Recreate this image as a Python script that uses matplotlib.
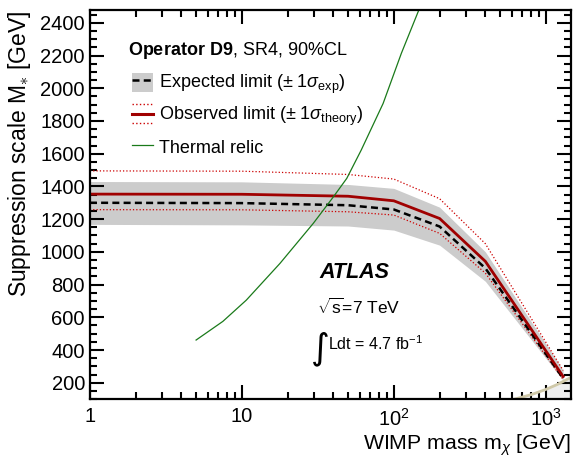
import matplotlib
matplotlib.use('Agg')
import matplotlib.pyplot as plt
from matplotlib.lines import Line2D
from matplotlib.patches import Patch
from matplotlib.legend import Legend
from matplotlib.legend_handler import HandlerBase, HandlerTuple
import matplotlib.ticker as ticker

plt.rcParams['font.family'] = ['Liberation Sans', 'DejaVu Sans']
plt.rcParams['mathtext.fontset'] = 'custom'
plt.rcParams['mathtext.rm'] = 'Liberation Sans'
plt.rcParams['mathtext.it'] = 'Liberation Sans:italic'
plt.rcParams['mathtext.bf'] = 'Liberation Sans:bold'

# limits vs WIMP mass (GeV)
mass = [1, 10, 50, 100, 200, 400, 1300]
observed = [1353, 1352, 1340, 1312, 1204, 942, 238]
expected = [1300, 1298, 1285, 1259, 1155, 900, 227]
exp_hi = [1430, 1428, 1412, 1388, 1273, 1000, 277]
exp_lo = [1168, 1165, 1158, 1133, 1041, 820, 215]
theo_hi = [1495, 1493, 1473, 1445, 1325, 1050, 275]
theo_lo = [1258, 1257, 1245, 1225, 1113, 870, 220]

# thermal relic curve
relic_mass = [5, 7.5, 10.7, 17.8, 29.5, 40, 49, 61, 85, 112, 146]
relic_ms = [461, 575, 705, 929, 1174, 1336, 1449, 1622, 1907, 2213, 2478]

# validity line (bottom right)
valid_mass = [600, 800, 1000, 1200, 1450]
valid_ms = [96, 127, 159, 191, 231]

xtick_vals = [1, 10, 100, 1000]
xtick_labels = ['1', '10', '10$^{2}$', '10$^{3}$']

RED = '#a00000'
DASH = (0, (2.8, 1.7))


class ObsHandler(HandlerBase):
    def create_artists(self, legend, orig, xd, yd, w, h, fs, trans):
        x = [-xd, -xd + w]
        lines = []
        for y, ls, lw in [(h * 0.5, '-', 2.2), (h * 0.98, ':', 1.0), (h * 0.02, ':', 1.0)]:
            l = Line2D(x, [-yd + y] * 2, color=RED if ls == '-' else '#cc0000', ls=ls, lw=lw)
            l.set_transform(trans)
            lines.append(l)
        return lines


fig = plt.figure(figsize=(5.76, 4.63), dpi=100)
ax = fig.add_axes([0.156, 0.138, 0.835, 0.841])

ax.fill_between(mass, exp_lo, exp_hi, color='#cccccc', lw=0)
ax.plot(mass, theo_hi, color='#cc0000', ls=':', lw=0.9)
ax.plot(mass, theo_lo, color='#cc0000', ls=':', lw=0.9)
ax.plot(mass, expected, color='black', ls=DASH, lw=1.8)
ax.plot(mass, observed, color=RED, lw=2.0)
ax.plot(relic_mass, relic_ms, color='#1a7a1a', lw=0.9)

vm = [m for m in valid_mass if m >= 1000]
vv = [v for m, v in zip(valid_mass, valid_ms) if m >= 1000]
ax.fill_between(vm, 0, vv, color='#eeeeee', lw=0)
ax.plot(valid_mass, valid_ms, color='#cfc8a8', lw=2.0)

ax.set_xscale('log')
ax.set_xlim(1, 1460)
ax.set_ylim(100, 2480)

ax.xaxis.set_major_locator(ticker.FixedLocator(xtick_vals))
ax.xaxis.set_major_formatter(ticker.FixedFormatter(xtick_labels))
ax.xaxis.set_minor_locator(ticker.LogLocator(base=10, subs=range(2, 10)))
ax.xaxis.set_minor_formatter(ticker.NullFormatter())
ax.yaxis.set_major_locator(ticker.MultipleLocator(200))
ax.yaxis.set_minor_locator(ticker.MultipleLocator(50))

ax.tick_params(which='both', direction='in', top=True, right=True, width=1.5, labelsize=14.5)
ax.tick_params(which='major', length=10)
ax.tick_params(which='minor', length=5)
ax.tick_params(axis='x', pad=6)
for s in ax.spines.values():
    s.set_linewidth(1.6)

ax.set_xlabel(r'WIMP mass m$_{\chi}$ [GeV]', fontsize=15.3, ha='right', x=1.0)
ax.set_ylabel(r'Suppression scale M$_{\ast}$ [GeV]', fontsize=16.5, ha='right', y=1.0)
ax.xaxis.set_label_coords(1.0, -0.086)
ax.yaxis.set_label_coords(-0.118, 0.997)

ax.text(0.08, 0.885, r'$\bf{Operator\ D9}$, SR4, 90%CL', transform=ax.transAxes, fontsize=13)

# legend: one entry per row so the row positions follow the reference
h_exp = (Patch(color='#cccccc', lw=0), Line2D([], [], color='black', ls=DASH, lw=1.8))
h_obs = Line2D([], [], color=RED)
h_rel = Line2D([], [], color='#1a7a1a', lw=0.9)
rows = [(h_exp, r'Expected limit ($\pm$ 1$\sigma_{\rm exp}$)', 0.808),
        (h_obs, r'Observed limit ($\pm$ 1$\sigma_{\rm theory}$)', 0.728),
        (h_rel, 'Thermal relic', 0.648)]
for h, lab, yy in rows:
    lg = Legend(ax, [h], [lab], handler_map={h_obs: ObsHandler(), tuple: HandlerTuple(ndivide=1)},
                loc='center left', bbox_to_anchor=(0.087, yy), frameon=False,
                fontsize=13, handlelength=1.2, handleheight=1.3,
                handletextpad=0.3, borderaxespad=0, borderpad=0)
    ax.add_artist(lg)

ax.text(0.478, 0.312, 'ATLAS', transform=ax.transAxes, fontsize=15.5, weight='bold', style='italic')
ax.text(0.472, 0.218, r'$\sqrt{\rm s}$=7 TeV', transform=ax.transAxes, fontsize=12.5)
ax.text(0.46, 0.105, '\u222b', transform=ax.transAxes, fontsize=26, family='DejaVu Sans')
ax.text(0.495, 0.126, r'Ldt = 4.7 fb$^{-1}$', transform=ax.transAxes, fontsize=11.5)

plt.savefig('out.png', dpi=100)
